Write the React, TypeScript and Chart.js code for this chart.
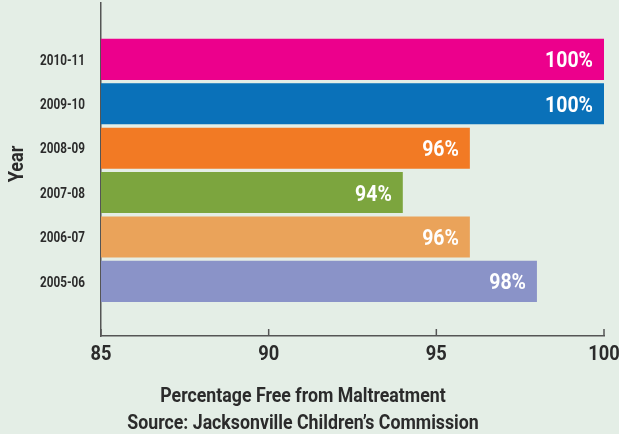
import React, { useEffect, useRef } from "react";
import { Chart, registerables } from "chart.js";

Chart.register(...registerables);

// Data (bottom to top, chronological)
const years = ["2005-06", "2006-07", "2007-08", "2008-09", "2009-10", "2010-11"];
const percentFree = [98, 96, 94, 96, 100, 100];
const barColors = ["#8a93c8", "#eaa35a", "#7ca53e", "#f27a24", "#0a71b9", "#ec008c"];
const xTicks = [85, 90, 95, 100];
const yTitle = "Year";
const xTitleLines = ["Percentage Free from Maltreatment", "Source: Jacksonville Children\u2019s Commission"];

const Y_MIN = -1.23;
const Y_MAX = 6.27;

const FONT = 'Roboto, "DejaVu Sans", sans-serif';
const BG = "#e4eee6";
const TEXT = "#2b2b2b";
const AXIS = "#555555";

function condensedText(
  ctx: CanvasRenderingContext2D,
  text: string,
  x: number,
  y: number,
  size: number,
  sx: number,
  align: CanvasTextAlign,
  color: string
) {
  ctx.save();
  ctx.translate(x, y);
  ctx.scale(sx, 1);
  ctx.font = `bold ${size}px ${FONT}`;
  ctx.fillStyle = color;
  ctx.textAlign = align;
  ctx.textBaseline = "alphabetic";
  ctx.fillText(text, 0, 0);
  ctx.restore();
}

const decorPlugin = {
  id: "decor",
  afterDatasetsDraw(chart: any) {
    const ctx = chart.ctx;
    const meta = chart.getDatasetMeta(0);
    meta.data.forEach((el: any, i: number) => {
      condensedText(ctx, `${percentFree[i]}%`, el.x - 11, el.y + 8, 22.5, 0.865, "right", "#ffffff");
    });
  },
  afterDraw(chart: any) {
    const ctx = chart.ctx;
    const xs = chart.scales.x;
    const ys = chart.scales.y;
    const area = chart.chartArea;
    ctx.save();
    ctx.strokeStyle = AXIS;
    ctx.lineWidth = 1.5;
    xTicks.forEach((v) => {
      const px = xs.getPixelForValue(v);
      ctx.beginPath();
      ctx.moveTo(px, area.bottom);
      ctx.lineTo(px, area.bottom - 7);
      ctx.stroke();
    });
    ctx.restore();

    // x tick labels
    xTicks.forEach((v) => {
      condensedText(ctx, String(v), xs.getPixelForValue(v), area.bottom + 24, 21, 0.87, "center", TEXT);
    });
    // y tick labels
    years.forEach((label, i) => {
      condensedText(ctx, label, area.left - 16, ys.getPixelForValue(i) + 5.3, 15, 0.78, "right", TEXT);
    });
    // x title (two lines)
    condensedText(ctx, xTitleLines[0], 303, 401.7, 21, 0.845, "center", TEXT);
    condensedText(ctx, xTitleLines[1], 303, 429, 21, 0.845, "center", TEXT);
    // y title
    ctx.save();
    ctx.translate(23, 164);
    ctx.rotate(-Math.PI / 2);
    condensedText(ctx, yTitle, 0, 0, 21, 0.86, "center", TEXT);
    ctx.restore();
  },
};

export default function App() {
  const canvasRef = useRef<HTMLCanvasElement | null>(null);

  useEffect(() => {
    document.body.style.margin = "0";
    document.body.style.background = BG;
    const canvas = canvasRef.current;
    if (!canvas) return;
    const zeroPad = (s: any) => {
      s.paddingTop = 0;
      s.paddingBottom = 0;
      s.paddingLeft = 0;
      s.paddingRight = 0;
    };
    const chart = new Chart(canvas, {
      type: "bar",
      data: {
        datasets: [
          {
            data: percentFree.map((v, i) => ({ x: v, y: i })),
            backgroundColor: barColors,
            borderWidth: 0,
            barPercentage: 0.925,
            categoryPercentage: 1,
          },
        ],
      },
      options: {
        indexAxis: "y",
        animation: false,
        responsive: false,
        devicePixelRatio: 1,
        layout: { padding: { top: 3, right: 15, left: 0, bottom: 0 } },
        plugins: {
          legend: { display: false },
          tooltip: { enabled: false },
        },
        scales: {
          x: {
            type: "linear",
            min: 85,
            max: 100,
            afterBuildTicks: (s: any) => {
              s.ticks = xTicks.map((v) => ({ value: v }));
            },
            afterFit: (s: any) => {
              s.height = 98;
              zeroPad(s);
            },
            grid: { display: false, drawTicks: false },
            border: { display: true, color: AXIS, width: 1.5 },
            ticks: { display: false },
          },
          y: {
            type: "linear",
            offset: false,
            bounds: "data",
            min: Y_MIN,
            max: Y_MAX,
            afterBuildTicks: (s: any) => {
              s.ticks = years.map((_, i) => ({ value: i }));
              s.min = Y_MIN;
              s.max = Y_MAX;
            },
            afterFit: (s: any) => {
              s.width = 101;
              zeroPad(s);
            },
            grid: { display: false, drawTicks: false, offset: false },
            border: { display: true, color: AXIS, width: 1.5 },
            ticks: { display: false },
          },
        },
      },
      plugins: [decorPlugin],
    });
    return () => chart.destroy();
  }, []);

  return (
    <div style={{ position: "fixed", left: 0, top: 0, width: 619, height: 434, background: BG }}>
      <canvas ref={canvasRef} width={619} height={434} style={{ display: "block" }} />
    </div>
  );
}
